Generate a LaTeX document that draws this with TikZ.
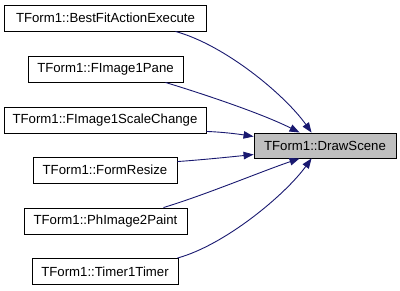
\documentclass[tikz,border=0pt]{standalone}
\usepackage{fontspec}
\setmainfont{Liberation Sans}
\usetikzlibrary{arrows.meta}
\definecolor{edgeblue}{HTML}{191970}
\definecolor{focusgray}{HTML}{BFBFBF}
\begin{document}
\begin{tikzpicture}[x=1pt,y=-1pt,
  fn/.style={draw=black,line width=0.9pt,fill=white,inner sep=0pt,
    minimum height=26pt,font=\fontsize{13.2}{15}\selectfont},
  focus/.style={fn,fill=focusgray,minimum height=25pt},
  call/.style={draw=edgeblue,line width=0.9pt,
    -{Triangle[length=10pt,width=7.5pt,fill=edgeblue]}}]
\useasboundingbox (0,0) rectangle (400,291);
% caller functions
\node[fn,minimum width=202pt] (b1) at (105.5,18) {TForm1::BestFitActionExecute};
\node[fn,minimum width=155pt] (b2) at (105.5,69) {TForm1::FImage1Pane};
\node[fn,minimum width=202pt] (b3) at (105,120) {TForm1::FImage1ScaleChange};
\node[fn,minimum width=144pt] (b4) at (105,170) {TForm1::FormResize};
\node[fn,minimum width=163pt] (b5) at (105.5,221) {TForm1::PhImage2Paint};
\node[fn,minimum width=146pt] (b6) at (105,271.5) {TForm1::Timer1Timer};
% called function
\node[focus,minimum width=142pt] (ds) at (325,145.5) {TForm1::DrawScene};
% call edges
\draw[call] ([xshift=-31.5pt]b1.south east) .. controls (225,45) and (285,95) .. ([xshift=58pt]ds.north west);
\draw[call] ([xshift=-18pt]b2.south east) .. controls (210,96) and (265,115) .. ([xshift=46pt]ds.north west);
\draw[call] ([yshift=2pt]b3.south east) .. controls (222,132) and (238,134) .. ([yshift=9pt]ds.west);
\draw[call] ([yshift=-5pt]b4.north east) .. controls (200,160) and (230,157) .. ([yshift=-9pt]ds.west);
\draw[call] ([xshift=-24pt]b5.north east) .. controls (205,195) and (260,172) .. ([xshift=46pt]ds.south west);
\draw[call] ([xshift=-1pt]b6.north east) .. controls (225,245) and (285,195) .. ([xshift=58pt]ds.south west);
\end{tikzpicture}
\end{document}
